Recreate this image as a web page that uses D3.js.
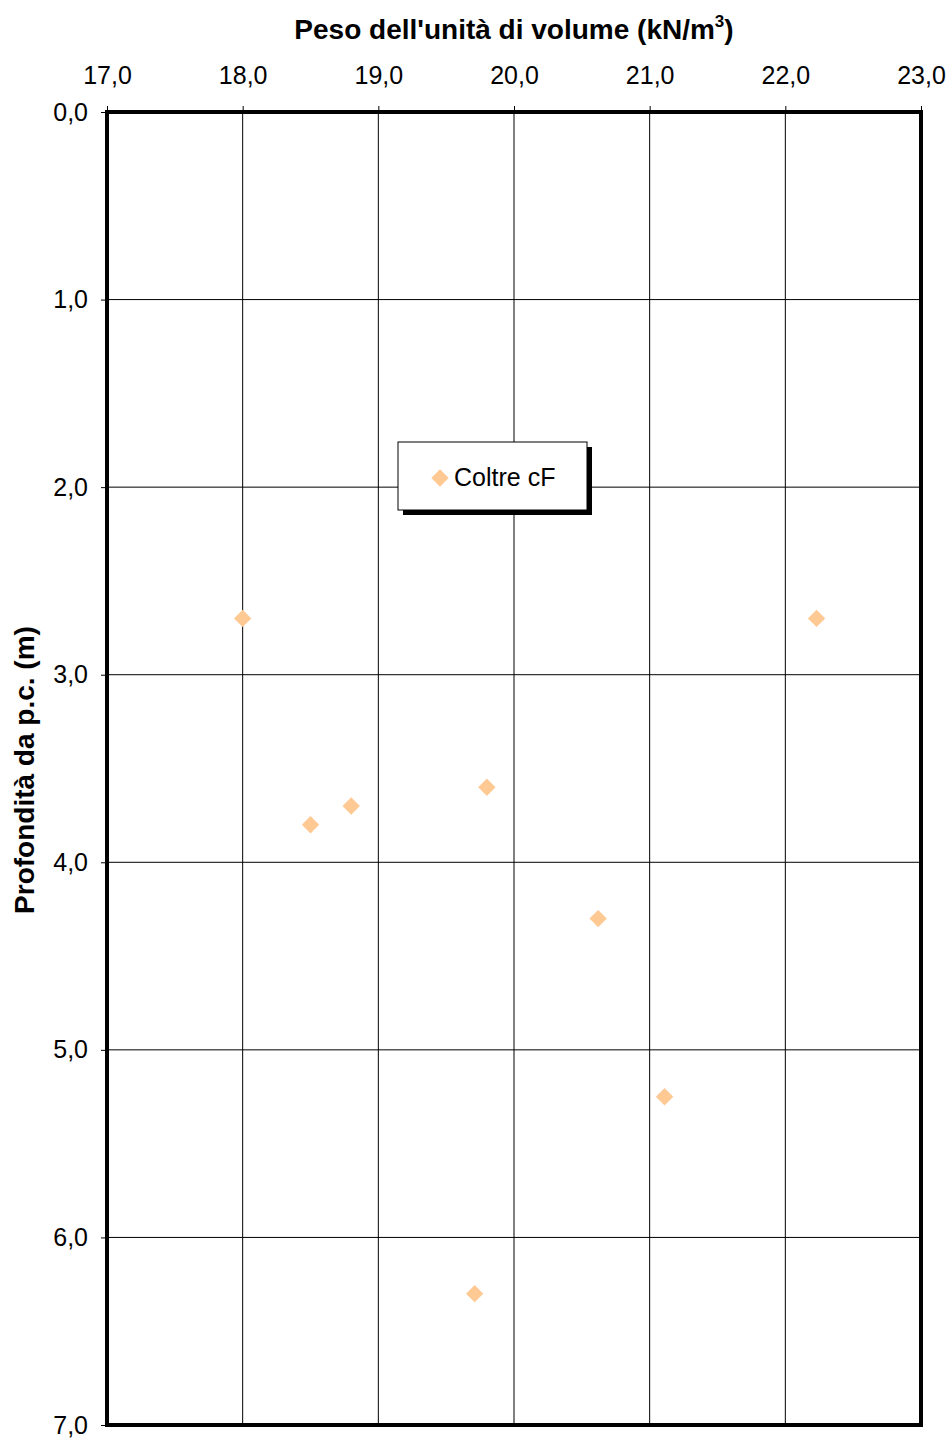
<!DOCTYPE html>
<html><head><meta charset="utf-8">
<script src="https://cdn.jsdelivr.net/npm/d3@7"></script>
<style>body{margin:0;background:#fff}svg{display:block}text{font-family:"Liberation Sans",Arial,sans-serif}</style>
</head><body><svg id="c" width="951" height="1439"></svg>
<script>
const xTicks = [17,18,19,20,21,22,23];
const yTicks = [0,1,2,3,4,5,6,7];
const weight = [18.0, 22.23, 18.5, 18.8, 19.8, 20.62, 21.11, 19.71];
const depth  = [2.70, 2.70, 3.80, 3.70, 3.60, 4.30, 5.25, 6.30];
const seriesName = "Coltre cF";

const svg = d3.select("#c");
const L=107,R=921,T=112,B=1425;
const x = d3.scaleLinear().domain([17,23]).range([L,R]);
const y = d3.scaleLinear().domain([0,7]).range([T,B]);
const fmt = d=>d3.format(".1f")(d).replace(".",",");

// grid
svg.append("g").selectAll("line").data(xTicks).join("line")
  .attr("x1",d=>x(d)).attr("x2",d=>x(d)).attr("y1",T).attr("y2",B)
  .attr("stroke","#000").attr("stroke-width",1);
svg.append("g").selectAll("line").data(yTicks).join("line")
  .attr("y1",d=>y(d)).attr("y2",d=>y(d)).attr("x1",L).attr("x2",R)
  .attr("stroke","#000").attr("stroke-width",1);

// axes
const xa = svg.append("g").attr("transform",`translate(0,${T})`)
  .call(d3.axisTop(x).tickValues(xTicks).tickFormat(fmt).tickSize(6).tickPadding(22));
const ya = svg.append("g").attr("transform",`translate(${L},0)`)
  .call(d3.axisLeft(y).tickValues(yTicks).tickFormat(fmt).tickSize(6).tickPadding(13));
[xa,ya].forEach(a=>{a.select(".domain").remove();
  a.selectAll("text").attr("font-size",25).attr("fill","#000").style("font-family","'Liberation Sans',Arial,sans-serif");
  a.selectAll("line").attr("stroke","#000");});

// frame
svg.append("rect").attr("x",L).attr("y",T).attr("width",R-L).attr("height",B-T)
  .attr("fill","none").attr("stroke","#000").attr("stroke-width",4);

// points
const sym = d3.symbol().type(d3.symbolSquare).size(150);
svg.append("g").selectAll("path").data(weight.map((w,i)=>[w,depth[i]])).join("path")
  .attr("d",sym).attr("fill","#ffc994")
  .attr("transform",d=>`translate(${x(d[0])},${y(d[1])}) rotate(45)`);

// titles
const tt = svg.append("text").attr("x",514).attr("y",39).attr("text-anchor","middle")
  .attr("font-size",28).attr("font-weight","bold");
tt.append("tspan").text("Peso dell'unità di volume (kN/m");
tt.append("tspan").text("3").attr("font-size",17).attr("dy",-12);
tt.append("tspan").text(")").attr("dy",12);
svg.append("text").attr("transform","translate(34,770) rotate(-90)").attr("text-anchor","middle")
  .attr("font-size",28).attr("font-weight","bold").text("Profondità da p.c. (m)");

// legend
const lg = svg.append("g").attr("transform","translate(398,442)");
lg.append("rect").attr("x",5).attr("y",5).attr("width",189).attr("height",68).attr("fill","#000");
lg.append("rect").attr("x",0).attr("y",0).attr("width",189).attr("height",68).attr("fill","#fff").attr("stroke","#000").attr("stroke-width",1);
lg.append("path").attr("d",sym).attr("fill","#ffc994").attr("transform","translate(42,36) rotate(45)");
lg.append("text").attr("x",56).attr("y",44).attr("font-size",25).text(seriesName);
</script></body></html>
